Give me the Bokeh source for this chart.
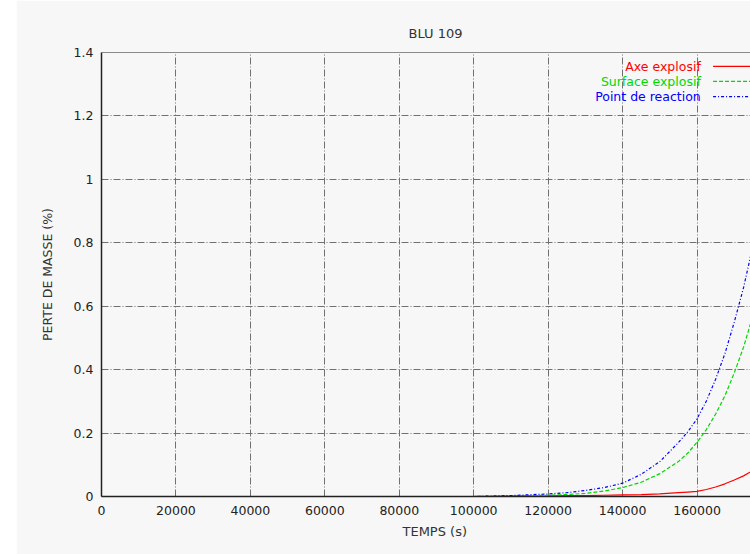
from bokeh.plotting import figure
from bokeh.models import Range1d, FixedTicker, LinearAxis, Label, Title, Spacer
from bokeh.layouts import row
from bokeh.embed import file_html
from bokeh.resources import INLINE

# ---------------- data ----------------
TITLE = "BLU 109"
X_LABEL = "TEMPS (s)"
Y_LABEL = "PERTE DE MASSE (%)"

TIME_S = [0, 20000, 40000, 60000, 80000, 100000, 110000, 120000, 125000,
          130000, 135000, 140000, 145000, 150000, 155000, 157500, 160000,
          162500, 165000, 167500, 170000, 172500, 175000, 180000]
AXE_EXPLOSIF = [0, 0, 0, 0, 0, 0, 0.001, 0.002, 0.003, 0.003, 0.004, 0.005,
                0.006, 0.008, 0.012, 0.014, 0.016, 0.022, 0.030, 0.040,
                0.052, 0.065, 0.082, 0.13]
SURFACE_EXPLOSIF = [0, 0, 0, 0, 0, 0, 0.001, 0.004, 0.006, 0.010, 0.017,
                    0.028, 0.045, 0.072, 0.110, 0.137, 0.171, 0.211, 0.26,
                    0.318, 0.39, 0.471, 0.57, 0.80]
POINT_REACTION = [0, 0, 0, 0, 0, 0, 0.003, 0.008, 0.012, 0.019, 0.028, 0.042,
                  0.070, 0.110, 0.170, 0.204, 0.245, 0.301, 0.37, 0.451,
                  0.55, 0.659, 0.79, 1.10]

SERIES_NAMES = ["Axe explosif", "Surface explosif", "Point de reaction"]
SERIES_VALUES = [AXE_EXPLOSIF, SURFACE_EXPLOSIF, POINT_REACTION]
SERIES_COLORS = ["#ff0000", "#00d800", "#0000ff"]
SERIES_DASH = ["solid", "4 2", "3 2 1 2"]

X_TICKS = [0, 20000, 40000, 60000, 80000, 100000, 120000, 140000, 160000, 180000]
X_TICK_LABELS = ["0", "20000", "40000", "60000", "80000", "100000",
                 "120000", "140000", "160000", "180000"]
Y_TICKS = [0, 0.2, 0.4, 0.6, 0.8, 1.0, 1.2, 1.4]
Y_TICK_LABELS = ["0", "0.2", "0.4", "0.6", "0.8", "1", "1.2", "1.4"]

X_FULL = 180000
Y_MAX = 1.4

# ---------------- layout ----------------
BG = "#f7f7f7"
FONT = "DejaVu Sans"
STRIP_W = 16
FIG_W, FIG_H = 734, 554
BORDER_L, BORDER_T, BORDER_B = 85, 52, 58
FRAME_W = FIG_W - BORDER_L
FULL_FRAME_W = 670  # width the complete 0..180000 frame would take
x_end = X_FULL * FRAME_W / FULL_FRAME_W

p = figure(width=FIG_W, height=FIG_H, output_backend="svg", toolbar_location=None,
           x_range=Range1d(0, x_end), y_range=Range1d(0, Y_MAX),
           min_border_left=BORDER_L, min_border_right=0,
           min_border_top=BORDER_T, min_border_bottom=BORDER_B,
           background_fill_color=BG, border_fill_color=BG,
           outline_line_color=None)

# title: centred over the full (uncropped) 0..180000 frame
p.title.text = TITLE
p.title.align = "left"
p.title.offset = FULL_FRAME_W / 2 - 28
p.title.text_font = FONT
p.title.text_font_size = "13px"
p.title.text_font_style = "normal"
p.title.text_color = "#333333"
p.title.standoff = 24

# grid
for g in (p.xgrid, p.ygrid):
    g.grid_line_color = "#707070"
    g.grid_line_dash = "7 2 1 2"
    g.grid_line_width = 1
p.xgrid.ticker = FixedTicker(ticks=X_TICKS)
p.ygrid.ticker = FixedTicker(ticks=Y_TICKS)

# axes
xa = p.xaxis[0]
ya = p.yaxis[0]
xa.ticker = FixedTicker(ticks=X_TICKS)
ya.ticker = FixedTicker(ticks=Y_TICKS)
xa.major_label_overrides = {t: l for t, l in zip(X_TICKS, X_TICK_LABELS)}
ya.major_label_overrides = {t: l for t, l in zip(Y_TICKS, Y_TICK_LABELS)}
for ax in (xa, ya):
    ax.axis_line_color = "#222222"
    ax.axis_line_width = 1.5
    ax.major_tick_in = 0
    ax.major_tick_out = 0
    ax.minor_tick_line_color = None
    ax.major_label_text_font = FONT
    ax.major_label_text_font_size = "12.5px"
    ax.major_label_text_color = "#222222"
xa.major_label_standoff = 9
ya.major_label_standoff = 8
ya.axis_label = Y_LABEL
ya.axis_label_text_font = FONT
ya.axis_label_text_font_size = "12.5px"
ya.axis_label_text_font_style = "normal"
ya.axis_label_text_color = "#333333"
ya.axis_label_standoff = 16

top = LinearAxis(ticker=FixedTicker(ticks=[]), axis_line_color="#8a8a8a",
                 major_tick_in=0, major_tick_out=0, minor_tick_line_color=None,
                 major_label_text_font_size="0px")
p.add_layout(top, "above")

# x axis label as a below-title so it can be centred on the full frame
p.add_layout(Title(text=X_LABEL, align="left", offset=FULL_FRAME_W / 2 - 34,
                   text_font=FONT, text_font_size="13px", text_font_style="normal",
                   text_color="#333333", standoff=9), "below")

# curves
for name, vals, col, dash in zip(SERIES_NAMES, SERIES_VALUES, SERIES_COLORS, SERIES_DASH):
    p.line(TIME_S, vals, line_color=col, line_width=1.2, line_dash=dash)

# legend (text on the left, line sample on the right, as in gnuplot)
LEG_TEXT_X = 161000
LEG_LINE_X0 = 164300
LEG_Y = [1.356, 1.309, 1.261]
for name, col, dash, ly in zip(SERIES_NAMES, SERIES_COLORS, SERIES_DASH, LEG_Y):
    p.add_layout(Label(x=LEG_TEXT_X, y=ly, text=name, text_align="right",
                       text_baseline="middle", text_color=col, text_font=FONT,
                       text_font_size="12.5px"))
    p.segment(x0=[LEG_LINE_X0], y0=[ly], x1=[X_FULL], y1=[ly],
              line_color=col, line_width=1.2, line_dash=dash)

layout = row(Spacer(width=STRIP_W, height=FIG_H), p)

open("out.html", "w").write(file_html(layout, INLINE))
